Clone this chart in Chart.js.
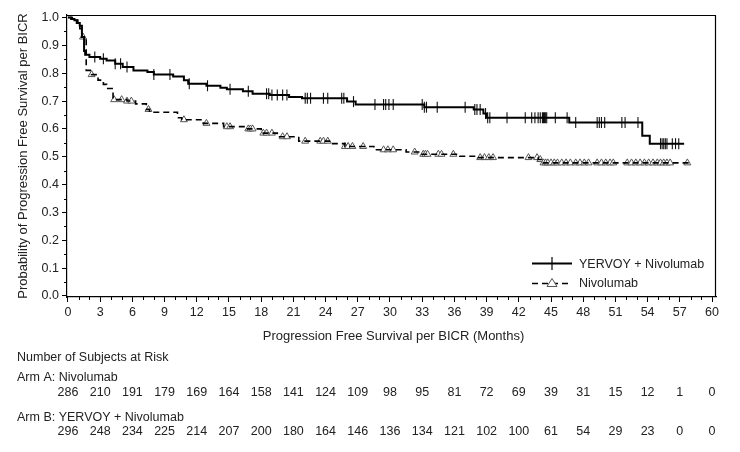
<!DOCTYPE html>
<html>
<head>
<meta charset="utf-8">
<script src="https://cdn.jsdelivr.net/npm/chart.js@4"></script>
<style>
  html, body { margin: 0; padding: 0; background: #fff; }
  #wrap { width: 740px; height: 452px; }
</style>
</head>
<body>
<div id="wrap"><canvas id="c" width="740" height="452"></canvas></div>
<script>
// ---- Data ----
const comboTimes = [0, 0.3, 0.6, 0.9, 1.1, 1.3, 1.5, 1.6, 2.0, 3.0, 3.6, 4.4, 5.1, 6.1, 7.4, 8.0, 9.8, 10.8, 11.2, 12.9, 14.2, 14.8, 16.3, 17.2, 18.8, 20.6, 21.8, 26.0, 26.8, 33.2, 37.8, 38.7, 39.0, 46.7, 53.5, 54.2, 57.4];
const comboSurv  = [1.0, 0.995, 0.99, 0.98, 0.97, 0.93, 0.88, 0.866, 0.858, 0.852, 0.846, 0.834, 0.822, 0.81, 0.804, 0.795, 0.788, 0.775, 0.762, 0.755, 0.748, 0.742, 0.735, 0.726, 0.722, 0.715, 0.71, 0.698, 0.688, 0.678, 0.67, 0.655, 0.64, 0.623, 0.575, 0.547, 0.547];

const nivoTimes = [0, 0.4, 0.8, 1.1, 1.3, 1.7, 2.2, 2.8, 3.3, 3.6, 4.2, 5.5, 6.3, 7.3, 7.6, 10.2, 10.6, 12.6, 14.5, 16.6, 18.0, 19.5, 21.5, 24.5, 25.8, 28.5, 31.5, 32.8, 36.5, 38.2, 43.8, 44.2, 58.0];
const nivoSurv  = [1.0, 0.99, 0.98, 0.96, 0.93, 0.81, 0.795, 0.775, 0.76, 0.745, 0.705, 0.70, 0.69, 0.67, 0.66, 0.64, 0.633, 0.62, 0.608, 0.60, 0.585, 0.572, 0.556, 0.547, 0.537, 0.525, 0.517, 0.509, 0.502, 0.497, 0.49, 0.478, 0.478];

const comboCensor = [2.5, 3.3, 4.4, 4.9, 5.5, 8.0, 9.5, 11.3, 13.0, 15.1, 16.8, 18.5, 18.7, 19.0, 19.5, 20.0, 20.4, 22.1, 22.3, 22.6, 23.8, 24.2, 25.5, 25.7, 26.6, 28.6, 29.4, 29.6, 29.9, 30.3, 33.0, 33.2, 33.4, 34.4, 37.0, 37.9, 38.1, 38.4, 38.9, 39.1, 39.3, 40.9, 42.6, 43.2, 43.5, 43.8, 44.0, 44.2, 44.3, 44.4, 44.5, 44.6, 45.4, 46.5, 47.3, 49.3, 49.5, 49.7, 50.0, 51.6, 51.9, 53.1, 55.2, 55.35, 55.5, 55.65, 55.8, 56.3, 56.6, 56.9];
const nivoCensor = [1.4, 2.2, 4.3, 5.0, 5.5, 5.9, 7.5, 10.8, 12.9, 14.8, 15.1, 16.8, 17.0, 17.2, 18.2, 18.5, 19.0, 20.0, 20.4, 22.1, 23.5, 23.8, 24.2, 25.8, 26.1, 26.5, 27.5, 29.4, 29.8, 30.3, 32.3, 33.1, 33.3, 33.5, 34.5, 34.8, 35.9, 38.4, 38.8, 39.2, 39.6, 42.9, 43.7, 44.0, 44.3, 44.5, 44.7, 45.0, 45.3, 45.6, 46.0, 46.4, 46.8, 47.3, 47.7, 48.1, 48.5, 49.3, 49.7, 50.1, 50.5, 50.8, 52.1, 52.5, 52.9, 53.3, 53.7, 54.1, 54.5, 54.9, 55.2, 55.5, 55.8, 56.1, 57.7];

const riskTimes = [0, 3, 6, 9, 12, 15, 18, 21, 24, 27, 30, 33, 36, 39, 42, 45, 48, 51, 54, 57, 60];
const riskArmA  = [286, 210, 191, 179, 169, 164, 158, 141, 124, 109, 98, 95, 81, 72, 69, 39, 31, 15, 12, 1, 0];
const riskArmB  = [296, 248, 234, 225, 214, 207, 200, 180, 164, 146, 136, 134, 121, 102, 100, 61, 54, 29, 23, 0, 0];

const labelCombo = 'YERVOY + Nivolumab';
const labelNivo  = 'Nivolumab';
const xTitle = 'Progression Free Survival per BICR (Months)';
const yTitle = 'Probability of Progression Free Survival per BICR';
const riskTitle = 'Number of Subjects at Risk';
const armALabel = 'Arm A: Nivolumab';
const armBLabel = 'Arm B: YERVOY + Nivolumab';

// ---- helpers ----
function stepAt(times, surv, t) {
  let v = surv[0];
  for (let i = 0; i < times.length; i++) { if (times[i] <= t) v = surv[i]; else break; }
  return v;
}
const toXY = (ts, ss) => ts.map((t, i) => ({x: t, y: ss[i]}));
const censorXY = (cs, ts, ss) => cs.map(t => ({x: t, y: stepAt(ts, ss, t)}));

const FONT = '"Liberation Sans", Arial, sans-serif';
const TXT = '#222';

const extras = {
  id: 'extras',
  afterDraw(chart) {
    const ctx = chart.ctx, a = chart.chartArea;
    const xs = chart.scales.x, ys = chart.scales.y;
    ctx.save();
    // frame top & right
    ctx.strokeStyle = '#000'; ctx.lineWidth = 1.2;
    ctx.beginPath();
    ctx.moveTo(a.left, a.top + 0.5); ctx.lineTo(a.right - 0.5, a.top + 0.5); ctx.lineTo(a.right - 0.5, a.bottom);
    ctx.stroke();
    // minor ticks
    ctx.lineWidth = 1;
    ctx.beginPath();
    for (let m = 0; m <= 60; m++) {
      if (m % 3 === 0) continue;
      const px = Math.round(xs.getPixelForValue(m)) + 0.5;
      ctx.moveTo(px, a.bottom); ctx.lineTo(px, a.bottom + 3);
    }
    for (let k = 0; k < 10; k++) {
      const v = k * 0.1 + 0.05;
      const py = Math.round(ys.getPixelForValue(v)) + 0.5;
      ctx.moveTo(a.left, py); ctx.lineTo(a.left - 3, py);
    }
    ctx.stroke();
    // titles
    ctx.fillStyle = TXT;
    ctx.font = '13px ' + FONT;
    ctx.textAlign = 'center'; ctx.textBaseline = 'alphabetic';
    ctx.fillText(xTitle, (a.left + a.right) / 2 + 2, 340);
    ctx.save();
    ctx.translate(27, (a.top + a.bottom) / 2);
    ctx.rotate(-Math.PI / 2);
    ctx.fillText(yTitle, 0, 0);
    ctx.restore();
    // risk table
    ctx.font = '12.5px ' + FONT;
    ctx.textAlign = 'left';
    ctx.fillText(riskTitle, 17, 360.5);
    ctx.fillText(armALabel, 17, 380.5);
    ctx.fillText(armBLabel, 17, 420.5);
    ctx.textAlign = 'center';
    riskTimes.forEach((t, i) => {
      const px = xs.getPixelForValue(t);
      ctx.fillText(String(riskArmA[i]), px, 395.5);
      ctx.fillText(String(riskArmB[i]), px, 435);
    });
    // legend
    const lx0 = 532, lx1 = 572, lc = 552;
    ctx.strokeStyle = '#000';
    ctx.lineWidth = 2; ctx.setLineDash([]);
    ctx.beginPath(); ctx.moveTo(lx0, 263.5); ctx.lineTo(lx1, 263.5); ctx.stroke();
    ctx.lineWidth = 1.2; ctx.strokeStyle = '#000';
    ctx.beginPath(); ctx.moveTo(lc, 257); ctx.lineTo(lc, 270); ctx.stroke();
    ctx.strokeStyle = '#000'; ctx.lineWidth = 1.6; ctx.setLineDash([6, 4]);
    ctx.beginPath(); ctx.moveTo(lx0, 283.5); ctx.lineTo(lx1, 283.5); ctx.stroke();
    ctx.setLineDash([]);
    ctx.fillStyle = '#fff'; ctx.strokeStyle = '#555'; ctx.lineWidth = 1;
    ctx.beginPath(); ctx.moveTo(lc, 278.5); ctx.lineTo(lc + 5, 286.5); ctx.lineTo(lc - 5, 286.5); ctx.closePath();
    ctx.fill(); ctx.stroke();
    ctx.fillStyle = TXT;
    ctx.font = '12.5px ' + FONT;
    ctx.textAlign = 'left';
    ctx.fillText(labelCombo, 579, 268);
    ctx.fillText(labelNivo, 579, 287);
    ctx.restore();
  }
};

new Chart(document.getElementById('c'), {
  type: 'scatter',
  data: {
    datasets: [
      { label: labelNivo, data: toXY(nivoTimes, nivoSurv), showLine: true, stepped: 'before',
        borderColor: '#000', borderWidth: 1.6, borderDash: [6, 4], pointRadius: 0, fill: false },
      { label: labelCombo, data: toXY(comboTimes, comboSurv), showLine: true, stepped: 'before',
        borderColor: '#000', borderWidth: 2, pointRadius: 0, fill: false },
      { label: 'c1', data: censorXY(comboCensor, comboTimes, comboSurv), showLine: false,
        pointStyle: 'line', rotation: 90, pointRadius: 5.5, borderColor: '#111', borderWidth: 1.1 },
      { label: 'c2', data: censorXY(nivoCensor, nivoTimes, nivoSurv), showLine: false,
        pointStyle: 'triangle', pointRadius: 4, backgroundColor: '#fff', borderColor: '#555', borderWidth: 1 }
    ]
  },
  options: {
    responsive: false, animation: false, devicePixelRatio: 1,
    layout: { padding: { left: 0, right: 24, top: 15, bottom: 0 } },
    plugins: { legend: { display: false }, tooltip: { enabled: false } },
    scales: {
      x: {
        type: 'linear', min: -0.09, max: 60.37,
        afterFit(s) { s.height = 155; },
        afterBuildTicks(s) { s.ticks = riskTimes.map(v => ({value: v})); },
        ticks: { autoSkip: false, maxRotation: 0, padding: 3, color: TXT, font: { family: FONT, size: 12.5 },
                 callback: v => String(v) },
        grid: { drawOnChartArea: false, drawTicks: true, tickLength: 5, color: '#000' },
        border: { display: true, color: '#000', width: 1.2 }
      },
      y: {
        type: 'linear', min: -0.0036, max: 1.009,
        afterFit(s) { s.width = 67; },
        afterBuildTicks(s) { const t = []; for (let k = 0; k <= 10; k++) t.push({value: k / 10}); s.ticks = t; },
        ticks: { autoSkip: false, padding: 3, color: TXT, font: { family: FONT, size: 12.5 },
                 callback: v => Number(v).toFixed(1) },
        grid: { drawOnChartArea: false, drawTicks: true, tickLength: 5, color: '#000' },
        border: { display: true, color: '#000', width: 1.2 }
      }
    }
  },
  plugins: [extras]
});
</script>
</body>
</html>
